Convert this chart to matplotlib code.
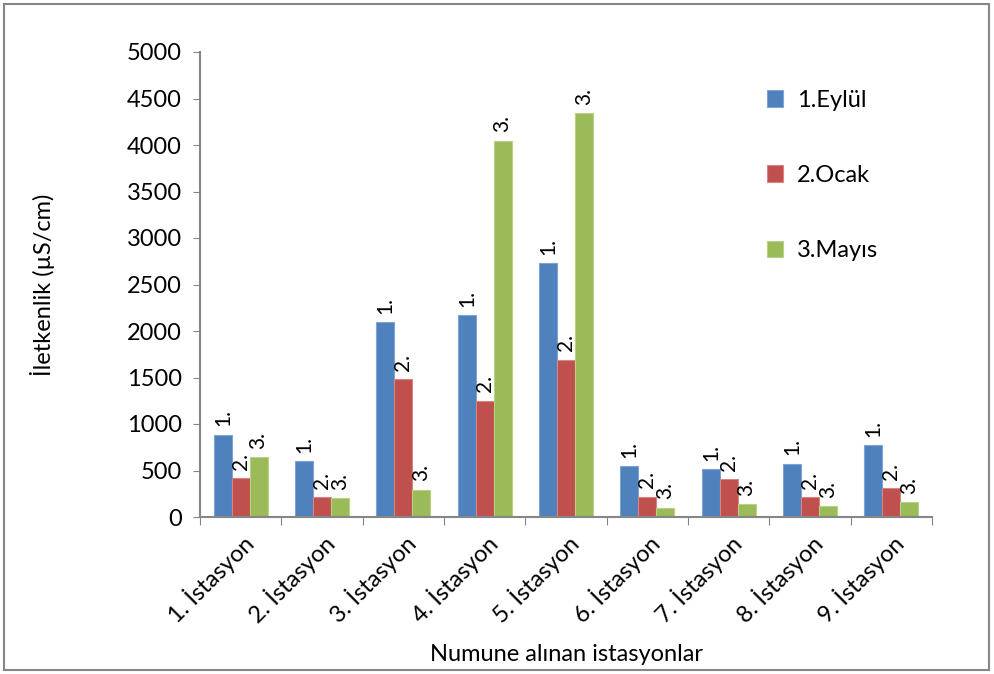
import matplotlib.pyplot as plt
import numpy as np
from matplotlib.patches import Rectangle

stations = ["1. İstasyon", "2. İstasyon", "3. İstasyon", "4. İstasyon", "5. İstasyon",
            "6. İstasyon", "7. İstasyon", "8. İstasyon", "9. İstasyon"]
series_names = ["1.Eylül", "2.Ocak", "3.Mayıs"]
bar_tags = ["1.", "2.", "3."]
eylul = [885, 600, 2095, 2170, 2730, 545, 515, 575, 770]
ocak = [420, 215, 1485, 1250, 1690, 220, 410, 210, 310]
mayis = [645, 205, 295, 4045, 4345, 100, 135, 115, 160]
colors = ["#4F81BD", "#C0504D", "#9BBB59"]
edge_colors = ["#7FA3D3", "#D68583", "#B8D184"]

plt.rcParams['font.family'] = ['Lato', 'DejaVu Sans']
fs = 17

fig = plt.figure(figsize=(9.94, 6.74), dpi=100)
ax = fig.add_axes([200 / 994, 1 - 517 / 674, 732 / 994, 465 / 674])

x = np.arange(len(stations))
width = 0.22
for i, vals in enumerate([eylul, ocak, mayis]):
    pos = x + (i - 1) * width
    ax.bar(pos, vals, width, color=colors[i], edgecolor=edge_colors[i],
           linewidth=0.8, label=series_names[i])
    # rotated series tag above each bar
    for px, v in zip(pos, vals):
        ax.annotate(bar_tags[i], (px, v), xytext=(0, 6), textcoords="offset points",
                    rotation=90, ha="center", va="bottom", fontsize=15)

ax.set_xlim(-0.5, len(stations) - 0.5)
ax.set_ylim(0, 5000)
ax.set_yticks(range(0, 5001, 500))
ax.tick_params(axis="y", labelsize=fs, length=5, color="#868686", pad=8)

# category ticks sit on the group boundaries
ax.set_xticks(np.arange(-0.5, len(stations)), minor=False)
ax.set_xticklabels([])
ax.set_xticks(x, minor=True)
ax.set_xticklabels(stations, minor=True, rotation=45, ha="right",
                   rotation_mode="anchor", fontsize=fs)
ax.tick_params(axis="x", which="major", length=6, color="#868686")
ax.tick_params(axis="x", which="minor", length=0, pad=10)

for side in ["top", "right"]:
    ax.spines[side].set_visible(False)
for side in ["left", "bottom"]:
    ax.spines[side].set_color("#868686")
    ax.spines[side].set_linewidth(1.5)

ax.set_ylabel("İletkenlik (µS/cm)", fontsize=fs, labelpad=52)
ax.set_xlabel("Numune alınan istasyonlar", fontsize=fs, labelpad=12)

ax.legend(loc="upper left", bbox_to_anchor=(0.745, 0.965), frameon=False,
          fontsize=fs, handlelength=0.7, handleheight=0.7, handletextpad=0.6,
          labelspacing=2.3)

fig.patches.append(Rectangle((4 / 994, 4 / 674), 985 / 994, 666 / 674,
                             transform=fig.transFigure, fill=False,
                             edgecolor="#868686", linewidth=1.5))

fig.savefig("out.png", dpi=100)
